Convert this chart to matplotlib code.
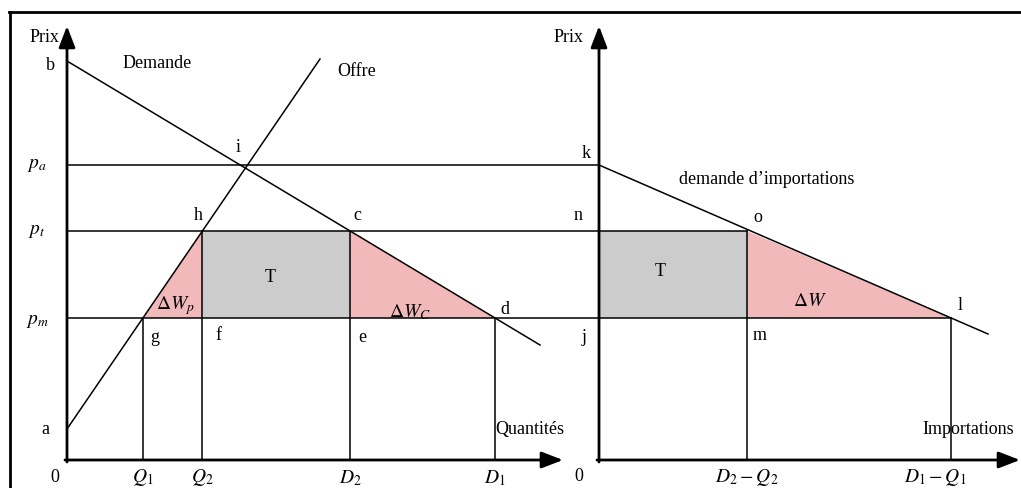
import matplotlib
matplotlib.use('Agg')
import matplotlib.pyplot as plt
from matplotlib.lines import Line2D

matplotlib.rcParams['font.family'] = 'Liberation Serif'
matplotlib.rcParams['mathtext.fontset'] = 'stix'

###############################################################################
# Data (quantities and prices, same unit on both panels)
###############################################################################

# Prices
p_a = 295
p_t = 229
p_m = 142
b = 399
a = 31

# Quantities
Q1 = 76
Q2 = 135
D2 = 283
D1 = 428

# Supply and demand lines (end points)
supply_q = [0, 253]
supply_p = [a, 401]
demand_q = [0, 473]
demand_p = [b, 115]

# Import demand line (end points)
imports_q = [0, 389]
imports_p = [p_a, 126]

M2 = D2 - Q2
M1 = D1 - Q1

PINK = '#f2b9bb'
GRAY = '#cccccc'
FS = 13

###############################################################################
# Figure
###############################################################################

W, H = 1021, 489
fig = plt.figure(figsize=(W / 100, H / 100), dpi=100)

# Outer frame (cut at the right and bottom)
fig.add_artist(Line2D([9 / W, 1], [1 - 13 / H, 1 - 13 / H], color='black',
                      lw=2, transform=fig.transFigure))
fig.add_artist(Line2D([10 / W, 10 / W], [0, 1 - 13 / H], color='black',
                      lw=2, transform=fig.transFigure))

oy = 461
ax1 = fig.add_axes([67 / W, (H - oy) / H, 496 / W, (oy - 27) / H])
ax1.set_xlim(0, 496)
ax1.set_ylim(0, oy - 27)
ax2 = fig.add_axes([599 / W, (H - oy) / H, 421 / W, (oy - 27) / H])
ax2.set_xlim(0, 421)
ax2.set_ylim(0, oy - 27)

for ax in (ax1, ax2):
    ax.axis('off')
    ax.patch.set_alpha(0)
    arrow = dict(arrowstyle='-|>,head_length=1.3,head_width=0.5',
                 lw=2.0, color='black', shrinkA=0, shrinkB=0)
    ax.annotate('', xy=(ax.get_xlim()[1], 0), xytext=(-2, 0),
                arrowprops=arrow, annotation_clip=False)
    ax.annotate('', xy=(0, ax.get_ylim()[1]), xytext=(0, -2),
                arrowprops=arrow, annotation_clip=False)

# Left panel: shaded areas
ax1.fill([Q1, Q2, Q2], [p_m, p_t, p_m], color=PINK, lw=0, zorder=1)
ax1.fill([Q2, D2, D2, Q2], [p_m, p_m, p_t, p_t], color=GRAY, lw=0, zorder=1)
ax1.fill([D2, D2, D1], [p_t, p_m, p_m], color=PINK, lw=0, zorder=1)

# Price lines run across to the right panel axis
span = 599 - 67
line = dict(color='black', lw=1.1, clip_on=False, zorder=2)
for p in (p_a, p_t, p_m):
    ax1.plot([0, span], [p, p], **line)
for q, p in ((Q1, p_m), (Q2, p_t), (D2, p_t), (D1, p_m)):
    ax1.plot([q, q], [0, p], **line)
ax1.plot(supply_q, supply_p, **line)
ax1.plot(demand_q, demand_p, **line)

# Right panel
ax2.fill([0, M2, M2, 0], [p_m, p_m, p_t, p_t], color=GRAY, lw=0, zorder=1)
ax2.fill([M2, M2, M1], [p_t, p_m, p_m], color=PINK, lw=0, zorder=1)
ax2.plot([0, M2], [p_t, p_t], **line)
ax2.plot([0, M1], [p_m, p_m], **line)
for q, p in ((M2, p_t), (M1, p_m)):
    ax2.plot([q, q], [0, p], **line)
ax2.plot(imports_q, imports_p, **line)

###############################################################################
# Labels
###############################################################################

def label(ax, x, y, s, ha='center', size=FS):
    ax.text(x, y, s, ha=ha, va='center', fontsize=size, clip_on=False)


label(ax1, -8, 424, 'Prix', ha='right')
label(ax1, -17, 396, 'b')
label(ax1, 90, 398, 'Demande')
label(ax1, 290, 389, 'Offre')
label(ax1, 171, 314, 'i')
label(ax1, -30, p_a + 1, r'$p_a$', size=FS + 1)
label(ax1, 131, 245, 'h')
label(ax1, 290, 245, 'c')
label(ax1, -30, p_t + 1, r'$p_t$', size=FS + 1)
label(ax1, 203, 184, 'T')
label(ax1, 108, 155, r'$\Delta W_p$', size=FS + 1)
label(ax1, 343, 149, r'$\Delta W_C$', size=FS + 1)
label(ax1, 438, 152, 'd')
label(ax1, -30, p_m - 3, r'$p_m$', size=FS + 1)
label(ax1, 88, 124, 'g')
label(ax1, 151, 126, 'f')
label(ax1, 295, 124, 'e')
label(ax1, -22, 31, 'a')
label(ax1, 463, 31, 'Quantités')
label(ax1, -12, -17, '0')
label(ax1, Q1, -17, r'$Q_1$', size=FS + 1)
label(ax1, Q2, -17, r'$Q_2$', size=FS + 1)
label(ax1, D2, -17, r'$D_2$', size=FS + 1)
label(ax1, D1, -17, r'$D_1$', size=FS + 1)

label(ax2, -16, 424, 'Prix', ha='right')
label(ax2, -13, 307, 'k')
label(ax2, 80, 281, 'demande d\u2019importations', ha='left')
label(ax2, -21, 245, 'n')
label(ax2, 159, 244, 'o')
label(ax2, 61, 190, 'T')
label(ax2, 211, 160, r'$\Delta W$', size=FS + 1)
label(ax2, 361, 156, 'l')
label(ax2, -15, 123, 'j')
label(ax2, 161, 126, 'm')
label(ax2, 369, 31, 'Importations')
label(ax2, -20, -16, '0')
label(ax2, M2, -17, r'$D_2-Q_2$', size=FS + 1)
label(ax2, M1 - 16, -17, r'$D_1-Q_1$', size=FS + 1)

fig.savefig('out.png', dpi=100)
